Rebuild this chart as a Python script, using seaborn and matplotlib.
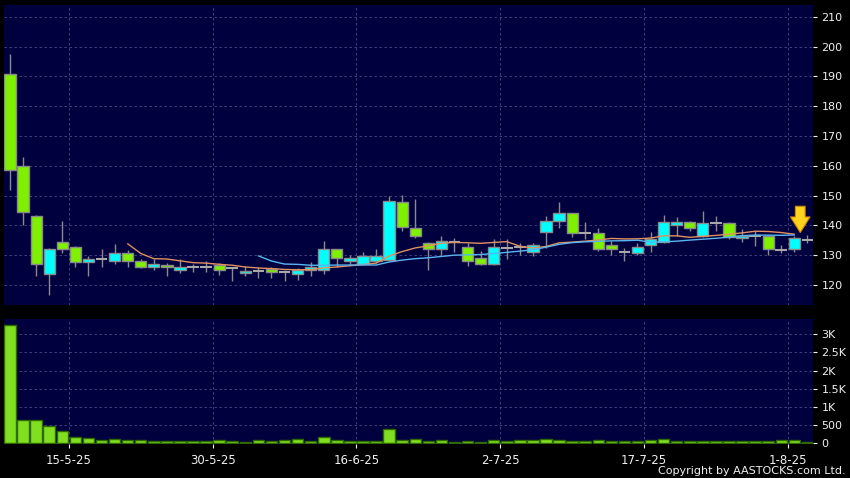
import matplotlib

matplotlib.use('Agg')
import matplotlib.pyplot as plt
import numpy as np
import pandas as pd
import seaborn as sns

# daily OHLC (cyan = up day, green = down day, grey = unchanged)
opens = [190.8, 159.8, 143.3, 123.7, 134.4, 132.9, 127.7, 128.8, 128.1, 130.7,
         128.1, 126.2, 126.7, 124.9, 125.9, 126.0, 126.8, 125.7, 123.9, 124.7,
         125.3, 124.2, 123.7, 124.9, 125.1, 132.0, 127.9, 127.1, 127.9, 128.5,
         147.8, 139.1, 134.1, 132.0, 134.5, 132.9, 128.9, 127.0, 132.5, 132.9,
         131.0, 137.8, 141.4, 144.1, 137.6, 137.4, 133.4, 130.9, 130.7, 133.5,
         134.3, 140.0, 141.1, 136.3, 140.7, 140.8, 135.7, 136.5, 136.5, 131.8,
         132.0, 135.2]
highs = [197.6, 162.9, 143.5, 132.3, 141.5, 133.0, 129.6, 132.0, 133.8, 131.6,
         128.8, 128.8, 127.3, 128.8, 127.1, 127.9, 127.3, 126.0, 126.4, 126.2,
         126.0, 125.1, 125.7, 127.7, 134.9, 132.2, 130.1, 131.2, 132.1, 149.7,
         150.3, 149.0, 134.3, 136.5, 135.8, 134.0, 131.5, 135.4, 135.4, 134.1,
         134.1, 143.2, 147.8, 144.3, 141.1, 139.1, 134.6, 132.4, 134.1, 137.8,
         143.6, 142.8, 141.3, 144.9, 143.2, 141.0, 138.8, 138.0, 136.8, 133.5,
         136.5, 136.8]
lows = [151.7, 140.2, 122.9, 116.7, 130.7, 125.9, 122.9, 125.9, 127.0, 126.2,
        125.8, 124.9, 122.9, 124.0, 124.5, 124.2, 123.4, 121.5, 123.1, 122.3,
        122.3, 121.5, 121.7, 122.9, 123.8, 126.2, 126.8, 126.8, 127.5, 128.0,
        138.0, 135.9, 124.9, 130.1, 130.9, 126.5, 126.8, 126.6, 128.7, 130.1,
        129.6, 132.4, 139.1, 136.1, 135.5, 131.4, 130.1, 127.9, 130.1, 131.2,
        134.0, 136.3, 138.0, 136.0, 138.0, 135.5, 134.3, 133.2, 130.1, 130.7,
        130.9, 134.0]
closes = [158.7, 144.5, 127.0, 132.0, 132.0, 127.7, 128.8, 128.8, 130.7, 128.1,
          126.2, 127.0, 125.9, 125.9, 125.9, 126.0, 124.9, 125.7, 124.8, 124.7,
          124.2, 124.2, 124.9, 126.0, 132.0, 129.0, 129.0, 129.6, 129.8, 148.3,
          139.4, 136.3, 132.0, 134.8, 134.5, 128.1, 127.0, 132.6, 132.5, 132.9,
          133.5, 141.3, 144.1, 137.4, 137.6, 132.1, 132.2, 130.9, 132.9, 135.4,
          141.1, 141.1, 139.2, 140.8, 140.7, 136.1, 136.6, 136.5, 132.0, 131.8,
          135.7, 135.2]
volumes = [3260, 655, 640, 490, 350, 175, 160, 92, 120, 100,
           92, 55, 55, 55, 55, 75, 100, 55, 50, 90,
           75, 90, 120, 65, 185, 80, 65, 65, 55, 400,
           100, 120, 65, 90, 40, 65, 50, 90, 75, 80,
           80, 130, 100, 75, 75, 90, 75, 75, 75, 100,
           130, 75, 75, 75, 75, 75, 75, 75, 75, 80,
           80, 40]

date_ticks = [4.5, 15.5, 26.5, 37.5, 48.5, 59.5]
date_labels = ['15-5-25', '30-5-25', '16-6-25', '2-7-25', '17-7-25', '1-8-25']
price_ticks = [120, 130, 140, 150, 160, 170, 180, 190, 200, 210]
vol_ticks = [0, 500, 1000, 1500, 2000, 2500, 3000]
vol_labels = ['0', '500', '1K', '1.5K', '2K', '2.5K', '3K']

BG = '#00003f'
GRID = '#4a4a86'
UP = '#00ffff'
DOWN = '#7ef000'
FLAT = '#a8a8a8'
EDGE = '#8a8a8a'
TXT = '#f0f0f0'

df = pd.DataFrame({'o': opens, 'h': highs, 'l': lows, 'c': closes, 'v': volumes})
df['i'] = np.arange(len(df))
# moving averages leave out the last (live) session
hist = df.iloc[:-1].copy()
hist['ma10'] = hist['c'].rolling(10).mean()
hist['ma20'] = hist['c'].rolling(20).mean()

sns.set_style('dark', {'axes.facecolor': BG, 'figure.facecolor': 'black'})
plt.rcParams['font.family'] = ['DejaVu Sans']

fig = plt.figure(figsize=(8.5, 4.78), dpi=100, facecolor='black')
ax = fig.add_axes([0.0047, 0.362, 0.952, 0.628])
axv = fig.add_axes([0.0047, 0.0711, 0.952, 0.2615])

# candles
ax.vlines(df['i'], df['l'], df['h'], color=EDGE, lw=1, zorder=2)
for _, r in df.iterrows():
    if abs(r['c'] - r['o']) < 0.05:
        ax.hlines(r['c'], r['i'] - 0.45, r['i'] + 0.45, color=FLAT, lw=1.5, zorder=3)
        continue
    col = UP if r['c'] > r['o'] else DOWN
    ax.bar(r['i'], abs(r['c'] - r['o']), bottom=min(r['o'], r['c']), width=0.86,
           color=col, edgecolor=EDGE, linewidth=1, zorder=3)

sns.lineplot(data=hist, x='i', y='ma10', ax=ax, color='#e09060', lw=1, zorder=4)
sns.lineplot(data=hist, x='i', y='ma20', ax=ax, color='#5ab4f0', lw=1, zorder=4)

last = df.iloc[-2]
ax.annotate('', xy=(last['i'] + 0.45, last['h'] + 1.1), xytext=(last['i'] + 0.45, last['h'] + 9.9),
            arrowprops=dict(arrowstyle='simple,head_width=1.0,head_length=0.8,tail_width=0.5',
                            fc='#ffd21e', ec='#d08a00', lw=0.8, mutation_scale=14,
                            shrinkA=0, shrinkB=0), zorder=5)

ax.set_xlim(-0.46, 61.44)
ax.set_ylim(113.3, 214)
ax.set_yticks(price_ticks)
ax.set_xticks(date_ticks)
ax.set_xticklabels([])

# volume
df['kind'] = ['live' if k == len(df) - 1 else 'day' for k in df['i']]
sns.barplot(data=df, x='i', y='v', hue='kind', palette={'day': '#80ff00', 'live': '#2f4f3a'},
            native_scale=True, dodge=False, width=0.88, edgecolor='#2f6a00', linewidth=1,
            legend=False, ax=axv, zorder=3)
axv.set_xlim(-0.46, 61.44)
axv.set_ylim(-19, 3420)
axv.set_yticks(vol_ticks)
axv.set_yticklabels(vol_labels)
axv.set_xticks(date_ticks)
axv.set_xticklabels(date_labels)

for a in (ax, axv):
    a.set_facecolor(BG)
    a.set_xlabel('')
    a.set_ylabel('')
    a.yaxis.tick_right()
    a.grid(True, color=GRID, linestyle=(0, (3, 3)), linewidth=0.6)
    a.set_axisbelow(True)
    a.tick_params(axis='y', colors=TXT, labelsize=8, length=3, width=0.8, pad=3,
                  direction='out', right=True, left=False)
    a.tick_params(axis='x', colors=TXT, labelsize=8.5, length=3, width=0.8, pad=4,
                  direction='out', bottom=True)
    for s in a.spines.values():
        s.set_visible(False)
ax.tick_params(axis='x', length=0)

fig.text(0.995, 0.005, 'Copyright by AASTOCKS.com Ltd.', color=TXT, fontsize=8,
         ha='right', va='bottom')

fig.savefig('out.png', dpi=100, facecolor='black')
